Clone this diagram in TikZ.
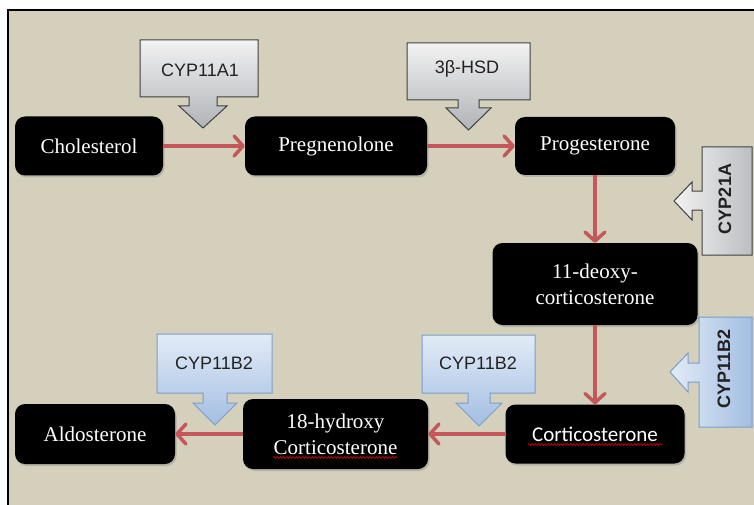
\documentclass[tikz,border=0pt]{standalone}
\usepackage{fontspec}
\setmainfont{Liberation Serif}
\newfontfamily\calloutfont{Liberation Sans}
\newfontfamily\cortfont{Carlito}
\usetikzlibrary{arrows.meta,decorations.pathmorphing,shadows}
\definecolor{bgbeige}{HTML}{D4D0BC}
\definecolor{flowred}{HTML}{C4575A}
\definecolor{graytop}{HTML}{F2F2F2}
\definecolor{graybot}{HTML}{B0B3B7}
\definecolor{grayline}{HTML}{404040}
\definecolor{bluetop}{HTML}{E2EBF7}
\definecolor{bluebot}{HTML}{A3BEE2}
\definecolor{blueline}{HTML}{7B9DCC}
\definecolor{calltext}{HTML}{222222}
\begin{document}
\begin{tikzpicture}[x=1pt,y=-1pt,
  stepnode/.style={fill=black, rounded corners=10pt, text=white, align=center,
    font=\fontsize{21}{26}\selectfont, inner sep=0pt,
    drop shadow={shadow xshift=1.5pt, shadow yshift=-2pt, opacity=0.35}},
  flow/.style={draw=flowred, line width=3.5pt,
    -{Straight Barb[length=9pt, width=20pt, line cap=round, line join=round]}},
  graycall/.style={draw=grayline, line width=1pt, top color=graytop, bottom color=graybot},
  bluecall/.style={draw=blueline, line width=1pt, top color=bluetop, bottom color=bluebot},
  grayvcall/.style={draw=grayline, line width=1pt, left color=graytop, right color=graybot!85},
  bluevcall/.style={draw=blueline, line width=1pt, left color=bluetop, right color=bluebot},
  calltxt/.style={font=\calloutfont\fontsize{18}{20}\selectfont, text=calltext, inner sep=0pt},
  vcalltxt/.style={font=\calloutfont\bfseries\fontsize{18}{20}\selectfont, text=calltext, inner sep=0pt, rotate=90},
  squiggle/.style={draw=red!80!black, line width=0.7pt, decorate,
    decoration={snake, amplitude=0.9pt, segment length=3.2pt}}
]
\useasboundingbox (0,0) rectangle (754,505);
\fill[white] (0,0) rectangle (754,505);
\fill[bgbeige] (8,10) rectangle (754,505);
\draw[black, line width=1.6pt] (8,505) -- (8,10) -- (754,10);

% callouts (down)
\path[graycall] (140,40) -- (258,40) -- (258,97) -- (217,97) -- (217,106) -- (227,106)
  -- (203,128) -- (179,106) -- (189,106) -- (189,97) -- (140,97) -- cycle;
\node[calltxt] (t11a1) at (200,70) {CYP11A1};

\path[graycall] (407,43) -- (530,43) -- (530,100) -- (479,100) -- (479,108) -- (491,108)
  -- (468.5,130) -- (446,108) -- (458,108) -- (458,100) -- (407,100) -- cycle;
\node[calltxt] (thsd) at (467,69) {3β-HSD};

\path[bluecall] (157,334) -- (272,334) -- (272,393) -- (227,393) -- (227,403) -- (237,403)
  -- (215,425) -- (193,403) -- (203,403) -- (203,393) -- (157,393) -- cycle;
\node[calltxt] (tb2a) at (214,363) {CYP11B2};

\path[bluecall] (422,335) -- (535,335) -- (535,393) -- (490,393) -- (490,403) -- (502,403)
  -- (479,426) -- (456,403) -- (468,403) -- (468,393) -- (422,393) -- cycle;
\node[calltxt] (tb2b) at (478,363) {CYP11B2};

% callouts (left)
\path[grayvcall] (702,147) -- (752,147) -- (752,255) -- (702,255) -- (702,210) -- (692,210)
  -- (692,220) -- (674,201) -- (692,182) -- (692,191) -- (702,191) -- cycle;
\node[vcalltxt] (t21a) at (725,199) {CYP21A};

\path[bluevcall] (699,317) -- (752,317) -- (752,427) -- (699,427) -- (699,382) -- (688,382)
  -- (688,392) -- (670,372) -- (688,353) -- (688,363) -- (699,363) -- cycle;
\node[vcalltxt] (tb2c) at (724,369) {CYP11B2};

% steps
\node[stepnode, minimum width=148pt, minimum height=59pt] (chol) at (89,146) {Cholesterol};
\node[stepnode, minimum width=182pt, minimum height=59pt] (preg) at (336,146) {Pregnenolone};
\node[stepnode, minimum width=160pt, minimum height=58pt] (prog) at (595,146) {Progesterone};
\node[stepnode, minimum width=205pt, minimum height=82pt] (deoxy) at (595,284) {11-deoxy-\\corticosterone};
\node[stepnode, minimum width=179pt, minimum height=59pt, font=\cortfont\fontsize{21}{26}\selectfont] (cort) at (595,434) {Corticosterone};
\node[stepnode, minimum width=185pt, minimum height=70pt] (hydroxy) at (335.5,434) {18-hydroxy\\Corticosterone};
\node[stepnode, minimum width=160pt, minimum height=60pt] (aldo) at (95,434) {Aldosterone};

% spell-check underlines
\draw[squiggle] (273,457.5) -- (397,457.5);
\draw[squiggle] (528,444.5) -- (662,444.5);

% flow
\draw[flow] (chol) -- (preg);
\draw[flow] (preg) -- (prog);
\draw[flow] (prog) -- (deoxy);
\draw[flow] (deoxy) -- (cort);
\draw[flow] (cort) -- (hydroxy);
\draw[flow] (hydroxy) -- (aldo);
\end{tikzpicture}
\end{document}
